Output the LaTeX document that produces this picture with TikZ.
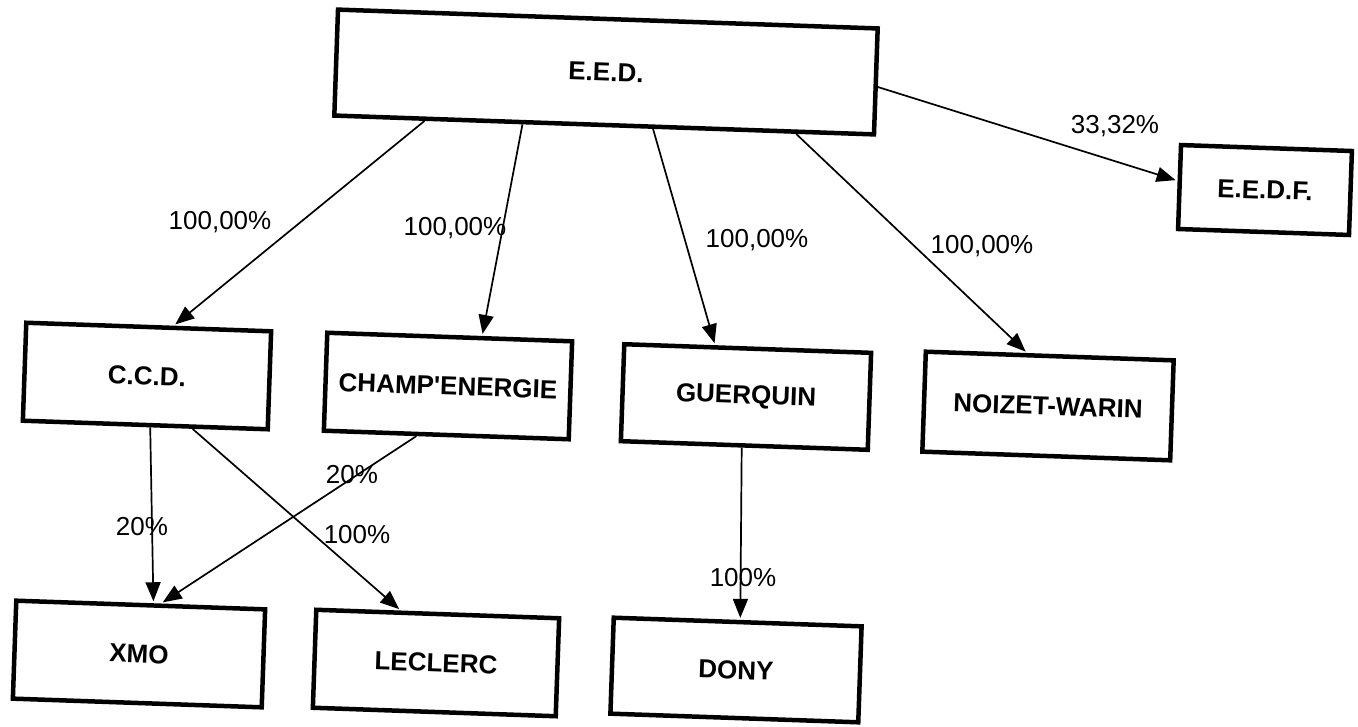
\documentclass[tikz,border=0pt]{standalone}
\usepackage{fontspec}
\setmainfont{Liberation Sans}
\usetikzlibrary{arrows.meta,calc}
\begin{document}
\begin{tikzpicture}[x=1pt,y=-1pt,
  box/.style={draw, line width=4.5pt, rotate=-2, inner sep=0pt, align=center, font=\bfseries\fontsize{26}{30}\selectfont},
  conn/.style={line width=1.7pt, -{Triangle[length=19pt,width=15pt]}, shorten >=2pt},
  pct/.style={inner sep=0pt, font=\fontsize{26}{30}\selectfont}]
\useasboundingbox (0,0) rectangle (1358,726);
% boxes
\node[box, minimum width=540pt, minimum height=106pt] (eed) at (606,72) {E.E.D.};
\node[box, minimum width=171pt, minimum height=84pt] (eedf) at (1265,190) {E.E.D.F.};
\node[box, minimum width=245pt, minimum height=98pt] (ccd) at (147,376) {C.C.D.};
\node[box, minimum width=245pt, minimum height=98pt] (champ) at (448,386) {CHAMP\textquotesingle ENERGIE};
\node[box, minimum width=247pt, minimum height=97pt] (guer) at (746,397) {GUERQUIN};
\node[box, minimum width=248pt, minimum height=100pt] (noiz) at (1048,406) {NOIZET-WARIN};
\node[box, minimum width=249pt, minimum height=98pt] (xmo) at (139,654) {XMO};
\node[box, minimum width=243pt, minimum height=98pt] (lec) at (436,663) {LECLERC};
\node[box, minimum width=248pt, minimum height=96pt] (dony) at (736,670) {DONY};
% connectors
\draw[conn] ($(eed.south west)!0.17!(eed.south east)$) -- ($(ccd.north west)!0.6!(ccd.north east)$);
\draw[conn] ($(eed.south west)!0.35!(eed.south east)$) -- ($(champ.north west)!0.63!(champ.north east)$);
\draw[conn] ($(eed.south west)!0.59!(eed.south east)$) -- ($(guer.north west)!0.37!(guer.north east)$);
\draw[conn] ($(eed.south west)!0.853!(eed.south east)$) -- ($(noiz.north west)!0.41!(noiz.north east)$);
\draw[conn] ($(eed.north east)!0.55!(eed.south east)$) -- ($(eedf.north west)!0.43!(eedf.south west)$);
\draw[conn] ($(ccd.south west)!0.52!(ccd.south east)$) -- ($(xmo.north west)!0.55!(xmo.north east)$);
\draw[conn] ($(ccd.south west)!0.69!(ccd.south east)$) -- ($(lec.north west)!0.35!(lec.north east)$);
\draw[conn] ($(champ.south west)!0.38!(champ.south east)$) -- ($(xmo.north west)!0.58!(xmo.north east)$);
\draw[conn] ($(guer.south west)!0.49!(guer.south east)$) -- ($(dony.north west)!0.51!(dony.north east)$);
% labels
\node[pct] (l1) at (220,222) {100,00\%};
\node[pct] (l2) at (455,228) {100,00\%};
\node[pct] (l3) at (757,240) {100,00\%};
\node[pct] (l4) at (982,246) {100,00\%};
\node[pct] (l5) at (1115,126) {33,32\%};
\node[pct] (l6) at (142,527) {20\%};
\node[pct] (l7) at (352,475) {20\%};
\node[pct] (l8) at (357,535) {100\%};
\node[pct] (l9) at (743,578) {100\%};
\end{tikzpicture}
\end{document}
